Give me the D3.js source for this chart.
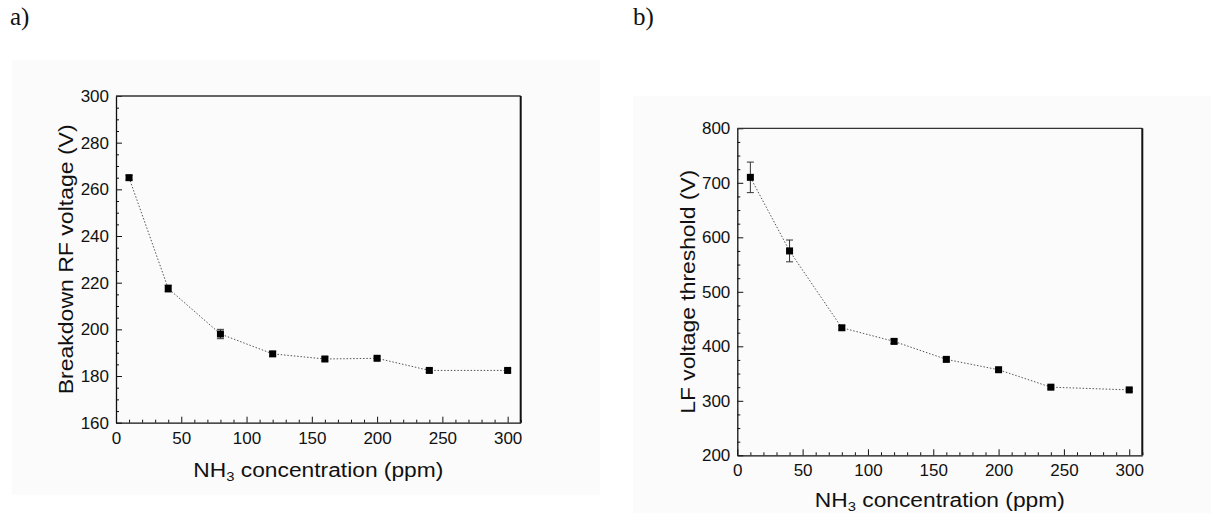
<!DOCTYPE html>
<html>
<head>
<meta charset="utf-8">
<script src="https://cdn.jsdelivr.net/npm/d3@7"></script>
<style>
  html, body { margin: 0; padding: 0; background: #ffffff; }
  svg { display: block; }
  text { font-family: "Liberation Sans", Arial, sans-serif; fill: #111; }
</style>
</head>
<body>
<svg id="chart" width="1211" height="513"></svg>
<script>
// ---------------- data ----------------
const concentration = [10, 40, 80, 120, 160, 200, 240, 300];
const breakdownRF = [265, 217.5, 198, 189.5, 187.3, 187.6, 182.4, 182.4];
const breakdownRFErr = [1, 1.5, 2, 1, 0.8, 0.8, 0.8, 0.8];
const lfThreshold = [710, 575, 434, 409, 376, 357, 325, 320];
const lfThresholdErr = [28, 20, 4, 4, 3, 3, 3, 3];
const xTicks = [0, 50, 100, 150, 200, 250, 300];
const yTicksA = [160, 180, 200, 220, 240, 260, 280, 300];
const yTicksB = [200, 300, 400, 500, 600, 700, 800];
const panelLabels = ["a)", "b)"];
const yTitles = ["Breakdown RF voltage (V)", "LF voltage threshold (V)"];

const svg = d3.select("#chart");

function drawPanel(cfg) {
  const g = svg.append("g");
  // faint background
  g.append("rect").attr("x", cfg.bg[0]).attr("y", cfg.bg[1])
    .attr("width", cfg.bg[2]).attr("height", cfg.bg[3]).attr("fill", "#fbfbfb");

  const x = d3.scaleLinear().domain([0, 310]).range([cfg.left, cfg.right]);
  const y = d3.scaleLinear().domain(cfg.yDomain).range([cfg.bottom, cfg.top]);

  // minor ticks
  const xMinor = d3.range(0, 311, 10).filter(v => v % 50 !== 0);
  const yMinor = d3.range(cfg.yDomain[0], cfg.yDomain[1] + 0.001, cfg.yMinorStep)
    .filter(v => !cfg.yTicks.includes(v));

  g.append("g").attr("transform", `translate(0,${cfg.bottom})`)
    .call(d3.axisBottom(x).tickValues(xMinor).tickSize(-3).tickFormat(""))
    .call(s => s.select(".domain").remove())
    .selectAll("line").attr("stroke", "#111");
  g.append("g").attr("transform", `translate(${cfg.left},0)`)
    .call(d3.axisLeft(y).tickValues(yMinor).tickSize(-3).tickFormat(""))
    .call(s => s.select(".domain").remove())
    .selectAll("line").attr("stroke", "#111");

  // major axes
  const xa = g.append("g").attr("transform", `translate(0,${cfg.bottom})`)
    .call(d3.axisBottom(x).tickValues(xTicks).tickSize(-6).tickPadding(9).tickSizeOuter(0));
  xa.select(".domain").attr("stroke", "#111").attr("stroke-width", 1.3);
  xa.selectAll(".tick line").attr("stroke", "#111");
  xa.selectAll("text").attr("font-size", "17px").attr("fill", "#111");

  const ya = g.append("g").attr("transform", `translate(${cfg.left},0)`)
    .call(d3.axisLeft(y).tickValues(cfg.yTicks).tickSize(-6).tickPadding(7).tickSizeOuter(0));
  ya.select(".domain").attr("stroke", "#111").attr("stroke-width", 1.3);
  ya.selectAll(".tick line").attr("stroke", "#111");
  ya.selectAll("text").attr("font-size", "17px").attr("fill", "#111");

  // top and right frame lines
  g.append("line").attr("x1", cfg.left).attr("x2", cfg.right)
    .attr("y1", cfg.top).attr("y2", cfg.top).attr("stroke", "#333").attr("stroke-width", 1.3);
  g.append("line").attr("x1", cfg.right).attr("x2", cfg.right)
    .attr("y1", cfg.top).attr("y2", cfg.bottom).attr("stroke", "#111").attr("stroke-width", 2);

  // dotted connecting line
  const pts = concentration.map((c, i) => [c, cfg.values[i], cfg.errors[i]]);
  g.append("path").datum(pts)
    .attr("d", d3.line().x(d => x(d[0])).y(d => y(d[1])))
    .attr("fill", "none").attr("stroke", "#555").attr("stroke-width", 1)
    .attr("stroke-dasharray", "1.5,1.8");

  // error bars
  const eb = g.append("g").selectAll("g").data(pts).join("g").attr("stroke", "#333").attr("stroke-width", 1);
  eb.append("line").attr("x1", d => x(d[0])).attr("x2", d => x(d[0]))
    .attr("y1", d => y(d[1] - d[2])).attr("y2", d => y(d[1] + d[2]));
  eb.append("line").attr("x1", d => x(d[0]) - 3.5).attr("x2", d => x(d[0]) + 3.5)
    .attr("y1", d => y(d[1] - d[2])).attr("y2", d => y(d[1] - d[2]));
  eb.append("line").attr("x1", d => x(d[0]) - 3.5).attr("x2", d => x(d[0]) + 3.5)
    .attr("y1", d => y(d[1] + d[2])).attr("y2", d => y(d[1] + d[2]));

  // square markers
  g.append("g").selectAll("rect").data(pts).join("rect")
    .attr("x", d => x(d[0]) - 3.5).attr("y", d => y(d[1]) - 3.5)
    .attr("width", 7).attr("height", 7).attr("fill", "#000");

  // axis titles
  const cx = (cfg.left + cfg.right) / 2;
  const xt = g.append("text").attr("x", cx).attr("y", cfg.xTitleY)
    .attr("text-anchor", "middle").attr("font-size", "20px")
    .attr("textLength", 250).attr("lengthAdjust", "spacingAndGlyphs");
  xt.append("tspan").text("NH");
  xt.append("tspan").attr("font-size", "13px").attr("dy", 4).text("3");
  xt.append("tspan").attr("dy", -4).text(" concentration (ppm)");

  const cy = (cfg.top + cfg.bottom) / 2;
  g.append("text").attr("transform", `translate(${cfg.yTitleX},${cy}) rotate(-90)`)
    .attr("text-anchor", "middle").attr("font-size", "20px")
    .attr("textLength", cfg.yTitleLen).attr("lengthAdjust", "spacingAndGlyphs")
    .text(cfg.yTitle);

  // panel label
  svg.append("text").attr("x", cfg.labelX).attr("y", 25)
    .attr("font-size", "25px").style("font-family", "'Liberation Serif', 'Times New Roman', serif")
    .text(cfg.label);
}

drawPanel({
  bg: [12, 60, 588, 435],
  left: 116, right: 520.7, top: 96, bottom: 422.7,
  yDomain: [160, 300], yTicks: yTicksA, yMinorStep: 5,
  values: breakdownRF, errors: breakdownRFErr,
  xTitleY: 476.7, yTitleX: 73, yTitleLen: 270, yTitle: yTitles[0],
  labelX: 10, label: panelLabels[0]
});

drawPanel({
  bg: [633, 96, 578, 417],
  left: 737.3, right: 1142.3, top: 128.3, bottom: 455.3,
  yDomain: [200, 800], yTicks: yTicksB, yMinorStep: 25,
  values: lfThreshold, errors: lfThresholdErr,
  xTitleY: 506.5, yTitleX: 695, yTitleLen: 244, yTitle: yTitles[1],
  labelX: 633, label: panelLabels[1]
});
</script>
</body>
</html>
